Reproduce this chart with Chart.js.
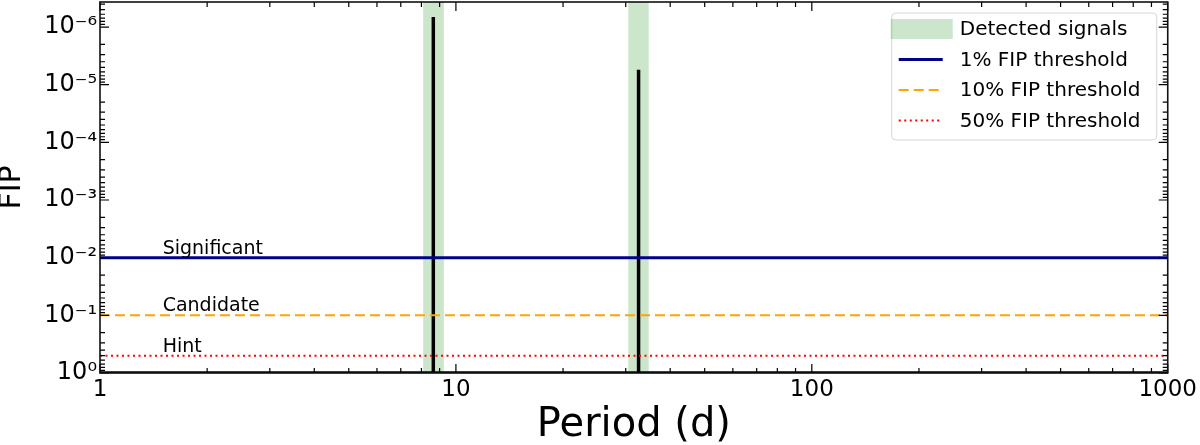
<!DOCTYPE html>
<html>
<head>
<meta charset="utf-8">
<script src="https://cdn.jsdelivr.net/npm/chart.js@4.4.1/dist/chart.umd.min.js"></script>
<style>
  body { margin: 0; background: #fff; }
  #wrap { width: 1200px; height: 445px; position: relative; }
</style>
</head>
<body>
<div id="wrap"><canvas id="fipChart"></canvas></div>
<script>
// periodogram: flat at FIP = 1 with two spikes
const periods = [1, 8.64, 8.64, 8.64, 32.6, 32.6, 32.6, 1000];
const fipValues = [1, 1, 6.7e-7, 1, 1, 5.5e-6, 1, 1];

// detected signal bands (period ranges)
const bandStart = [8.09, 30.5];
const bandEnd = [9.25, 34.8];

// FIP thresholds
const thresholdValues = [0.01, 0.1, 0.5];
const thresholdLabels = ["1% FIP threshold", "10% FIP threshold", "50% FIP threshold"];
const thresholdNames = ["Significant", "Candidate", "Hint"];
const thresholdColors = ["#00008b", "#ffa500", "#ff0000"];
const thresholdDash = [[], [10, 5], [2, 3.5]];
const thresholdWidth = [3, 2, 2];

const xTicks = [1, 10, 100, 1000];
const yTicks = [1e-6, 1e-5, 1e-4, 1e-3, 1e-2, 1e-1, 1];
const yTickLabels = ["10⁻⁶", "10⁻⁵", "10⁻⁴", "10⁻³", "10⁻²", "10⁻¹", "10⁰"];

const xMin = 1, xMax = 1000;
const yMin = 3.68e-7, yMax = 1;

const FONT = "'DejaVu Sans', 'Liberation Sans', sans-serif";

const datasets = [];
datasets.push({
  label: "FIP",
  data: periods.map((p, i) => ({ x: p, y: fipValues[i] })),
  borderColor: "#000",
  borderWidth: 3.5,
  pointRadius: 0,
  tension: 0,
  order: 10
});
thresholdValues.forEach((v, i) => {
  datasets.push({
    label: thresholdLabels[i],
    data: [{ x: xMin, y: v }, { x: xMax, y: v }],
    borderColor: thresholdColors[i],
    borderDash: thresholdDash[i],
    borderWidth: thresholdWidth[i],
    pointRadius: 0,
    order: 3 - i
  });
});

// green bands behind everything
const bandPlugin = {
  id: "bands",
  beforeDatasetsDraw(chart) {
    const { ctx, chartArea, scales } = chart;
    ctx.save();
    ctx.fillStyle = "rgba(0,128,0,0.2)";
    bandStart.forEach((s, i) => {
      const x0 = scales.x.getPixelForValue(s);
      const x1 = scales.x.getPixelForValue(bandEnd[i]);
      ctx.fillRect(x0, chartArea.top, x1 - x0, chartArea.bottom - chartArea.top);
    });
    ctx.restore();
  }
};

// frame, inward ticks, threshold names and legend
const decorPlugin = {
  id: "decor",
  afterDatasetsDraw(chart) {
    const { ctx, chartArea, scales } = chart;
    const a = chartArea;
    ctx.save();

    // threshold names above lines
    ctx.fillStyle = "#000";
    ctx.font = "19px " + FONT;
    ctx.textAlign = "left";
    ctx.textBaseline = "alphabetic";
    thresholdValues.forEach((v, i) => {
      const y = scales.y.getPixelForValue(v);
      ctx.fillText(thresholdNames[i], scales.x.getPixelForValue(1.5), y - 4);
    });

    // ticks
    ctx.strokeStyle = "#000";
    ctx.lineWidth = 1.2;
    ctx.beginPath();
    for (let e = 0; e <= 3; e++) {
      for (let k = 1; k <= 9; k++) {
        const v = k * Math.pow(10, e);
        if (v < xMin || v > xMax) continue;
        const px = scales.x.getPixelForValue(v);
        const len = k === 1 ? 9 : 5;
        ctx.moveTo(px, a.bottom); ctx.lineTo(px, a.bottom - len);
        ctx.moveTo(px, a.top); ctx.lineTo(px, a.top + len);
      }
    }
    for (let e = -7; e <= 0; e++) {
      for (let k = 1; k <= 9; k++) {
        const v = k * Math.pow(10, e);
        if (v < yMin || v > yMax) continue;
        const py = scales.y.getPixelForValue(v);
        const len = k === 1 ? 9 : 5;
        ctx.moveTo(a.left, py); ctx.lineTo(a.left + len, py);
        ctx.moveTo(a.right, py); ctx.lineTo(a.right - len, py);
      }
    }
    ctx.stroke();

    // frame
    ctx.lineWidth = 1.6;
    ctx.strokeStyle = "#111";
    ctx.strokeRect(a.left, a.top, a.right - a.left, a.bottom - a.top);

    // legend
    const bx = a.right - 276, by = a.top + 11, bw = 265, bh = 127;
    ctx.fillStyle = "rgba(255,255,255,0.85)";
    ctx.strokeStyle = "#d6d6d6";
    ctx.lineWidth = 1;
    ctx.beginPath();
    ctx.roundRect(bx, by, bw, bh, 4);
    ctx.fill();
    ctx.stroke();

    ctx.font = "20px " + FONT;
    ctx.textBaseline = "middle";
    const rows = ["Detected signals"].concat(thresholdLabels);
    rows.forEach((label, i) => {
      const ry = by + 16 + i * 30.5;
      if (i === 0) {
        ctx.fillStyle = "rgba(0,128,0,0.2)";
        ctx.fillRect(bx - 1, ry - 10, 62, 20);
      } else {
        const ds = chart.data.datasets[i];
        ctx.strokeStyle = ds.borderColor;
        ctx.lineWidth = ds.borderWidth;
        ctx.setLineDash(ds.borderDash);
        ctx.beginPath();
        ctx.moveTo(bx + 7, ry);
        ctx.lineTo(bx + 51, ry);
        ctx.stroke();
        ctx.setLineDash([]);
      }
      ctx.fillStyle = "#000";
      ctx.fillText(label, bx + 68, ry + 1);
    });
    ctx.restore();
  }
};

new Chart(document.getElementById("fipChart").getContext("2d"), {
  type: "line",
  data: { datasets },
  options: {
    responsive: true,
    maintainAspectRatio: false,
    animation: false,
    devicePixelRatio: 1,
    layout: { padding: { top: 2, right: 32, left: 0, bottom: 0 } },
    plugins: {
      legend: { display: false },
      tooltip: { enabled: false }
    },
    scales: {
      x: {
        type: "logarithmic",
        min: xMin,
        max: xMax,
        afterBuildTicks: (s) => { s.ticks = xTicks.map(v => ({ value: v })); },
        afterFit: (s) => { s.height = 72; },
        grid: { display: false, drawTicks: false },
        border: { display: false },
        ticks: {
          padding: 3,
          color: "#000",
          font: { family: FONT, size: 23 },
          maxRotation: 0,
          autoSkip: false,
          callback: (v) => String(v)
        },
        title: {
          display: true,
          text: "Period (d)",
          color: "#000",
          font: { family: FONT, size: 40, lineHeight: 0.95 },
          padding: 0
        }
      },
      y: {
        type: "logarithmic",
        reverse: true,
        min: yMin,
        max: yMax,
        afterBuildTicks: (s) => { s.ticks = yTicks.map(v => ({ value: v })); },
        afterFit: (s) => { s.width = 100; s.paddingTop = 0; s.paddingBottom = 0; },
        grid: { display: false, drawTicks: false },
        border: { display: false },
        ticks: {
          padding: 3,
          color: "#000",
          font: { family: FONT, size: 24 },
          autoSkip: false,
          callback: (v) => yTickLabels[yTicks.findIndex(t => Math.abs(Math.log10(t) - Math.log10(v)) < 1e-6)]
        },
        title: {
          display: true,
          text: "FIP",
          color: "#000",
          font: { family: FONT, size: 30, lineHeight: 0.8 },
          padding: 0
        }
      }
    }
  },
  plugins: [bandPlugin, decorPlugin]
});
</script>
</body>
</html>
